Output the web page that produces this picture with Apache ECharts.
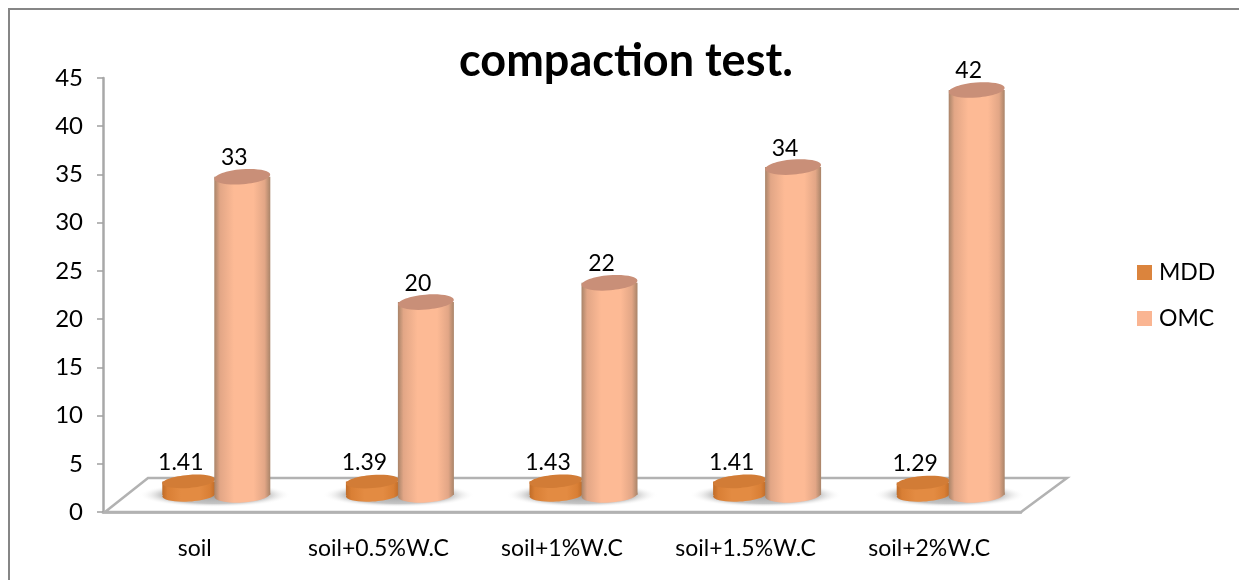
<!DOCTYPE html>
<html>
<head>
<meta charset="utf-8">
<style>
  html, body { margin: 0; padding: 0; background: #fff; }
  #chart { width: 1239px; height: 580px; }
</style>
<script src="https://cdn.jsdelivr.net/npm/echarts@6/dist/echarts.min.js"></script>
</head>
<body>
<div id="chart"></div>
<script>
var categories = ['soil', 'soil+0.5%W.C', 'soil+1%W.C', 'soil+1.5%W.C', 'soil+2%W.C']
var mdd = [1.41, 1.39, 1.43, 1.41, 1.29]
var omc = [33, 20, 22, 34, 42]

var fontName = 'Lato'
// 3d look: the bars stand halfway back on the floor
var depthX = 20
var depthY = -17
var backX = 45
var backY = -34

function sideGradient(edge, mid, centre) {
  return new echarts.graphic.LinearGradient(0, 0, 1, 0, [
    { offset: 0, color: edge },
    { offset: 0.1, color: mid },
    { offset: 0.35, color: centre },
    { offset: 0.7, color: centre },
    { offset: 0.9, color: mid },
    { offset: 1, color: edge },
  ])
}

// one cylinder, height comes from the value axis
function cylinder(offset, rx, ry, side, topColor, labelColor) {
  return function (params, api) {
    var base = api.coord([api.value(0), 0])
    var top = api.coord([api.value(0), api.value(1)])
    var cx = base[0] + depthX + offset
    var by = base[1] + depthY
    var ty = top[1] + depthY
    return {
      type: 'group',
      children: [
        {
          type: 'ellipse',
          x: cx,
          y: by,
          rotation: 0.06,
          shape: { cx: 0, cy: 0, rx: rx, ry: ry },
          style: { fill: side },
        },
        {
          type: 'rect',
          shape: { x: cx - rx, y: ty, width: rx * 2, height: by - ty },
          style: { fill: side },
        },
        {
          type: 'ellipse',
          x: cx,
          y: ty,
          rotation: 0.08,
          shape: { cx: 0, cy: 0, rx: rx, ry: ry },
          style: { fill: topColor },
        },
        {
          type: 'text',
          x: cx - 8,
          y: ty - 19,
          style: {
            text: String(api.value(1)),
            fill: labelColor,
            font: '23px ' + fontName,
            align: 'center',
            verticalAlign: 'middle',
          },
        },
      ],
    }
  }
}

function renderFloor(params, api) {
  var cs = params.coordSys
  var l = cs.x + 2
  var r = cs.x + cs.width
  var b = cs.y + cs.height
  return {
    type: 'polygon',
    shape: { points: [[l, b], [l + backX - 2, b + backY], [r + backX + 1, b + backY], [r, b]] },
    style: { fill: '#fff', stroke: '#b2b2b2', lineWidth: 2.5 },
  }
}

// soft shadow under each pair, a circle squashed flat
function renderShadow(params, api) {
  var base = api.coord([api.value(0), 0])
  return {
    type: 'circle',
    x: base[0] + depthX,
    y: base[1] + depthY,
    scaleY: 0.16,
    shape: { cx: 0, cy: 0, r: 76 },
    style: {
      fill: new echarts.graphic.RadialGradient(0.5, 0.5, 0.5, [
        { offset: 0, color: 'rgba(110,110,110,0.7)' },
        { offset: 0.7, color: 'rgba(140,140,140,0.5)' },
        { offset: 1, color: 'rgba(255,255,255,0)' },
      ]),
    },
  }
}

var myChart = echarts.init(document.getElementById('chart'), null, { renderer: 'canvas' })
var option = {
  animation: false,
  backgroundColor: '#fff',
  textStyle: { fontFamily: fontName },
  graphic: [
    {
      type: 'polyline',
      silent: true,
      shape: { points: [[9, 580], [9, 9], [1239, 9]] },
      style: { fill: 'none', stroke: '#868686', lineWidth: 2 },
    },
  ],
  title: {
    text: 'compaction test.',
    left: 454,
    top: 34,
    textStyle: { fontFamily: fontName, fontSize: 45, fontWeight: 'bold', color: '#000' },
  },
  legend: {
    orient: 'vertical',
    left: 1137,
    top: 261,
    padding: 0,
    itemWidth: 15,
    itemHeight: 15,
    itemGap: 23,
    icon: 'rect',
    data: ['MDD', 'OMC'],
    textStyle: { fontFamily: fontName, fontSize: 23, color: '#000', padding: [0, 0, 0, 2] },
  },
  grid: { left: 103, right: 218, top: 78, height: 434 },
  xAxis: {
    type: 'category',
    data: categories,
    axisLine: { lineStyle: { color: '#a8a8a8', width: 2.5 } },
    axisTick: { length: 8, lineStyle: { color: '#a0a0a0', width: 1.5 } },
    axisLabel: { interval: 0, fontSize: 23, color: '#000', margin: 25, fontFamily: fontName },
  },
  yAxis: {
    type: 'value',
    min: 0,
    max: 45,
    interval: 5,
    axisLine: { show: true, lineStyle: { color: '#a8a8a8', width: 2.5 } },
    axisTick: { show: true, length: 6, lineStyle: { color: '#a0a0a0', width: 1.5 } },
    splitLine: { show: false },
    axisLabel: { fontSize: 24, color: '#000', margin: 20, padding: [4, 0, 0, 0], fontFamily: fontName },
  },
  series: [
    {
      type: 'custom',
      name: 'floor',
      silent: true,
      z: 1,
      data: [[0, 0]],
      renderItem: renderFloor,
    },
    {
      type: 'custom',
      name: 'shadow',
      silent: true,
      z: 1,
      data: categories.map(function (c, i) { return [i, 0] }),
      renderItem: renderShadow,
    },
    {
      type: 'custom',
      name: 'MDD',
      z: 3,
      itemStyle: { color: '#db843d' },
      encode: { x: 0, y: 1 },
      data: mdd.map(function (v, i) { return [i, v] }),
      renderItem: cylinder(-26, 26.5, 6.5, sideGradient('#c06c28', '#d97f35', '#e38b42'), '#d27c36', '#000'),
    },
    {
      type: 'custom',
      name: 'OMC',
      z: 4,
      itemStyle: { color: '#fab592' },
      encode: { x: 0, y: 1 },
      data: omc.map(function (v, i) { return [i, v] }),
      renderItem: cylinder(27.5, 28, 7.5, sideGradient('#a98469', '#e2a686', '#fdba95'), '#c98f78', '#000'),
    },
  ],
}
myChart.setOption(option)
</script>
</body>
</html>
